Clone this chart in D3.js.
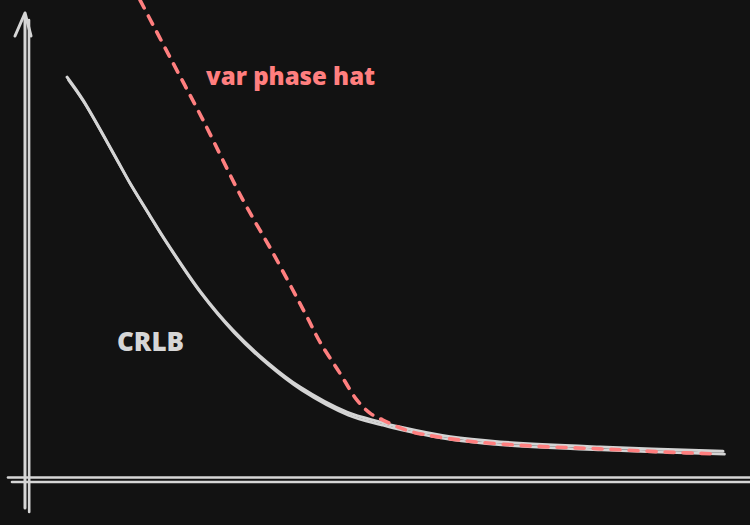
<!DOCTYPE html>
<html>
<head>
<meta charset="utf-8">
<script src="https://cdn.jsdelivr.net/npm/d3@7"></script>
<style>
  html, body { margin: 0; padding: 0; background: #121212; }
  svg { display: block; }
</style>
</head>
<body>
<svg id="chart" width="750" height="525"></svg>
<script>
// ---- data (arbitrary units) ----
const crlbX = [1.67, 2.33, 3.75, 4.29, 5.13, 5.67, 7.21, 8.58, 10.0, 11.38, 13.33, 14.71, 15.54, 17.63, 19.71, 23.88, 29.0];
const crlbY = [8.66, 8.17, 6.88, 6.38, 5.67, 5.22, 4.05, 3.21, 2.52, 1.98, 1.44, 1.23, 1.12, 0.91, 0.80, 0.69, 0.60];
const varX  = [4.71, 6.08, 7.33, 9.0, 10.25, 11.67, 12.21, 13.04, 13.75, 14.29, 14.83, 15.46, 16.08, 18.33, 21.08, 23.88, 26.67, 28.75];
const varY  = [10.32, 8.97, 7.74, 6.01, 4.87, 3.49, 2.95, 2.28, 1.70, 1.42, 1.27, 1.12, 1.01, 0.82, 0.71, 0.65, 0.58, 0.54];
const seriesLabels = ["CRLB", "var phase hat"];
const labelPos = [[3.75, 2.76], [7.46, 8.49]]; // data-space anchor of the labels

const W = 750, H = 525;
const svg = d3.select("#chart");
svg.append("rect").attr("width", W).attr("height", H).attr("fill", "#121212");

const x = d3.scaleLinear().domain([0, 30]).range([27, 747]);
const y = d3.scaleLinear().domain([0, 10]).range([479, 15]);

const axisColor = "#d6d6d6";
const font = "'Open Sans', Lato, sans-serif";

// ---- hand-drawn style axes (double strokes) ----
const x0 = x(0), y0 = y(0);
const ax = svg.append("g").attr("stroke", axisColor).attr("stroke-linecap", "round").attr("fill", "none");
// x axis
ax.append("line").attr("x1", x0 - 19).attr("x2", W + 5).attr("y1", y0 - 1.5).attr("y2", y0 - 1.5).attr("stroke-width", 2.6);
ax.append("line").attr("x1", x0 - 15).attr("x2", W + 5).attr("y1", y0 + 3).attr("y2", y0 + 3).attr("stroke-width", 2.6);
// y axis
ax.append("line").attr("x1", x0 - 2).attr("x2", x0 - 2).attr("y1", y.range()[1] + 1).attr("y2", y0 + 29).attr("stroke-width", 3);
ax.append("line").attr("x1", x0 + 2).attr("x2", x0 + 2.2).attr("y1", y.range()[1] + 5).attr("y2", y0 + 33).attr("stroke-width", 2.6);
// arrow head
ax.append("path")
  .attr("d", `M${x0 - 12},${y.range()[1] + 21} L${x0 - 2},${y.range()[1] - 2} L${x0 + 4},${y.range()[1] + 21}`)
  .attr("stroke-width", 3).attr("stroke-linejoin", "round");

// ---- lines ----
const line = d3.line().x(d => x(d[0])).y(d => y(d[1])).curve(d3.curveCatmullRom.alpha(0.5));
const crlb = crlbX.map((v, i) => [v, crlbY[i]]);
const vph = varX.map((v, i) => [v, varY[i]]);

svg.append("path").datum(crlb).attr("d", line)
  .attr("fill", "none").attr("stroke", "#d4d4d4").attr("stroke-width", 3).attr("stroke-linecap", "round");
svg.append("path").datum(crlb).attr("d", line)
  .attr("transform", "translate(1.5,3)")
  .attr("fill", "none").attr("stroke", "#d4d4d4").attr("stroke-width", 2.6).attr("stroke-linecap", "round");

svg.append("path").datum(vph).attr("d", line)
  .attr("fill", "none").attr("stroke", "#ff7f7f").attr("stroke-width", 3.6)
  .attr("stroke-dasharray", "9 9").attr("stroke-linecap", "round");

// ---- labels ----
svg.append("text").attr("x", x(labelPos[0][0])).attr("y", y(labelPos[0][1]))
  .attr("font-family", font).attr("font-weight", 800).attr("font-size", 26)
  .attr("fill", "#d6d6d6").text(seriesLabels[0]);
svg.append("text").attr("x", x(labelPos[1][0])).attr("y", y(labelPos[1][1]))
  .attr("font-family", font).attr("font-weight", 800).attr("font-size", 24)
  .attr("fill", "#ff7f7f").text(seriesLabels[1]);
</script>
</body>
</html>
